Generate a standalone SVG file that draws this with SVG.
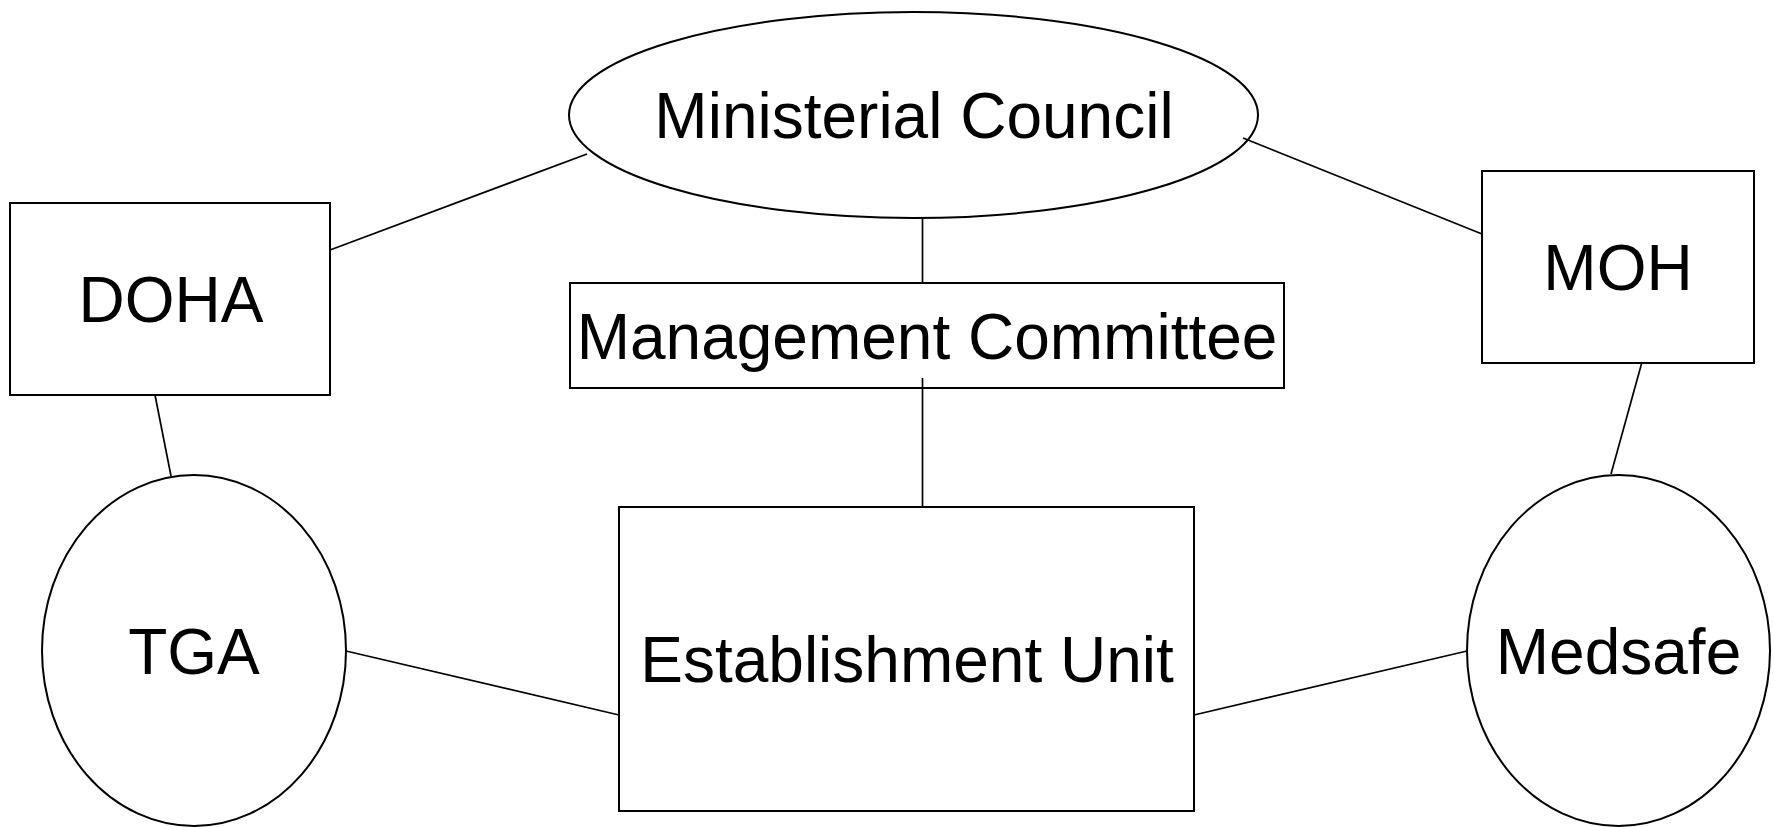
<svg xmlns="http://www.w3.org/2000/svg" width="1774" height="827" viewBox="0 0 1774 827">
<style>
.shape{fill:none;stroke:#000;stroke-width:2}
.lbl{font-family:"Liberation Sans",Arial,sans-serif;font-size:64px;fill:#000;text-anchor:middle}
.conn line{stroke:#000;stroke-width:1.7}
</style>
<rect width="1774" height="827" fill="#fff"/>
<g id="connectors" class="conn">
<line x1="330" y1="250" x2="587" y2="154"/>
<line x1="1243" y1="138" x2="1482" y2="234"/>
<line x1="922.5" y1="218" x2="922.5" y2="283"/>
<line x1="922.5" y1="378" x2="922.5" y2="507"/>
<line x1="155" y1="395" x2="171" y2="476"/>
<line x1="1642" y1="362" x2="1611" y2="474"/>
<line x1="346" y1="651" x2="619" y2="715"/>
<line x1="1194" y1="715" x2="1467" y2="651"/>
</g>
<g id="ministerial-council">
<ellipse class="shape" cx="913.5" cy="115" rx="344.5" ry="103"/>
<text class="lbl" x="914" y="138">Ministerial Council</text>
</g>
<g id="doha">
<rect class="shape" x="10" y="203" width="320" height="192"/>
<text class="lbl" x="171" y="322">DOHA</text>
</g>
<g id="moh">
<rect class="shape" x="1482" y="171" width="272" height="192"/>
<text class="lbl" x="1618" y="290">MOH</text>
</g>
<g id="management-committee">
<rect class="shape" x="570" y="283" width="714" height="105"/>
<text class="lbl" x="927" y="359">Management Committee</text>
</g>
<g id="tga">
<ellipse class="shape" cx="194" cy="650.5" rx="152" ry="175.5"/>
<text class="lbl" x="194" y="674">TGA</text>
</g>
<g id="establishment-unit">
<rect class="shape" x="619" y="507" width="575" height="304"/>
<text class="lbl" x="907" y="682">Establishment Unit</text>
</g>
<g id="medsafe">
<ellipse class="shape" cx="1618.5" cy="650.5" rx="151.5" ry="175.5"/>
<text class="lbl" x="1618.5" y="674">Medsafe</text>
</g>
</svg>
